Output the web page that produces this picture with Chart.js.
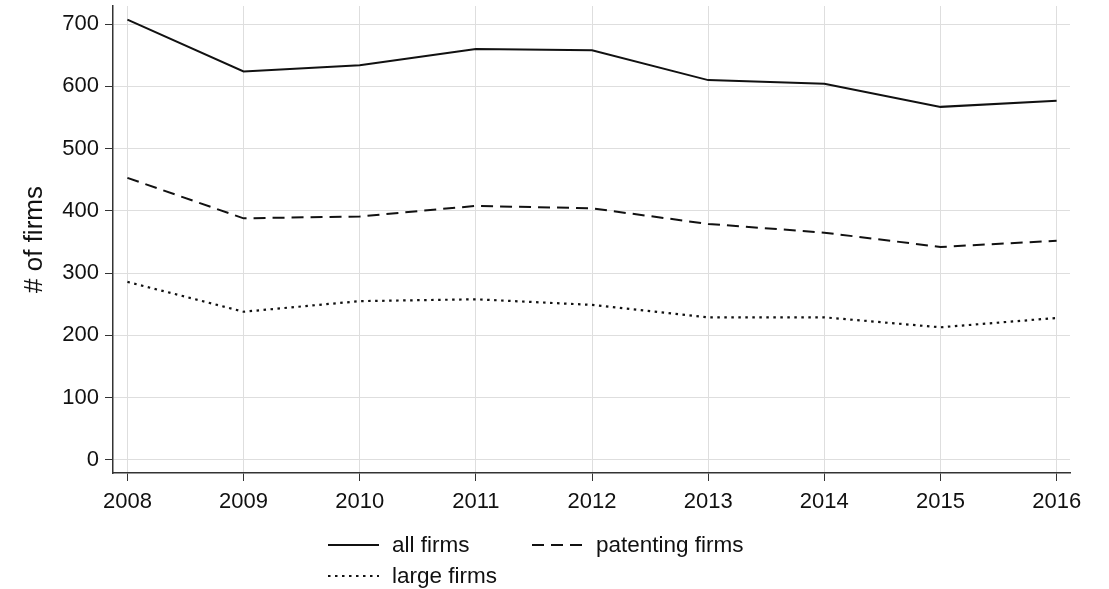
<!DOCTYPE html>
<html>
<head>
<meta charset="utf-8">
<script src="https://cdn.jsdelivr.net/npm/chart.js@4/dist/chart.umd.min.js"></script>
<style>
  html, body { margin: 0; padding: 0; background: #fff; }
  #wrap { width: 1109px; height: 589px; }
</style>
</head>
<body>
<div id="wrap"><canvas id="lineChart"></canvas></div>
<script>
var years = [2008, 2009, 2010, 2011, 2012, 2013, 2014, 2015, 2016];
var allFirms = [707, 624, 634, 660, 658, 610, 604, 567, 577];
var patentingFirms = [453, 388, 391, 408, 404, 379, 365, 342, 352];
var largeFirms = [286, 238, 255, 258, 249, 229, 229, 213, 228];
var yTicks = [0, 100, 200, 300, 400, 500, 600, 700];

var FONT = '"Liberation Sans", Arial, sans-serif';

function pts(vals) {
    return years.map(function (yr, i) { return { x: yr, y: vals[i] }; });
}

// legend drawn by hand: two columns, like the original
var legendPlugin = {
    id: 'twoColLegend',
    afterDraw: function (chart) {
        var c = chart.ctx;
        var spots = [
            { x: 328, y: 545 },
            { x: 532, y: 545 },
            { x: 328, y: 576 }
        ];
        chart.data.datasets.forEach(function (ds, i) {
            var s = spots[i];
            c.save();
            c.strokeStyle = ds.borderColor;
            c.lineWidth = ds.borderWidth;
            c.setLineDash(ds.borderDash || []);
            c.beginPath();
            c.moveTo(s.x, s.y);
            c.lineTo(s.x + 51, s.y);
            c.stroke();
            c.setLineDash([]);
            c.fillStyle = '#111';
            c.font = '22.5px ' + FONT;
            c.textBaseline = 'middle';
            c.fillText(ds.label, s.x + 64, s.y + 1);
            c.restore();
        });
    }
};

var ctx = document.getElementById('lineChart').getContext('2d');
var myChart = new Chart(ctx, {
    type: 'line',
    data: {
        datasets: [{
            label: 'all firms',
            data: pts(allFirms),
            borderColor: '#111',
            borderWidth: 2,
            pointRadius: 0
        }, {
            label: 'patenting firms',
            data: pts(patentingFirms),
            borderColor: '#111',
            borderWidth: 2,
            borderDash: [12, 7],
            pointRadius: 0
        }, {
            label: 'large firms',
            data: pts(largeFirms),
            borderColor: '#111',
            borderWidth: 2.2,
            borderDash: [2.5, 4.5],
            pointRadius: 0
        }]
    },
    options: {
        responsive: true,
        maintainAspectRatio: false,
        animation: false,
        layout: { padding: { left: 0, right: 39, top: 6, bottom: 76 } },
        plugins: {
            legend: { display: false },
            tooltip: { enabled: false }
        },
        scales: {
            x: {
                type: 'linear',
                min: 2007.876,
                max: 2016.115,
                afterBuildTicks: function (s) { s.ticks = years.map(function (v) { return { value: v }; }); },
                afterFit: function (s) { s.height = 40; },
                ticks: {
                    color: '#111',
                    padding: 8,
                    maxRotation: 0,
                    font: { size: 22, family: FONT },
                    callback: function (v) { return String(v); }
                },
                grid: { color: '#dedede', tickColor: '#333', tickLength: 8, lineWidth: 1 },
                border: { color: '#333', width: 1.5 }
            },
            y: {
                min: -21,
                max: 729,
                afterBuildTicks: function (s) { s.ticks = yTicks.map(function (v) { return { value: v }; }); },
                afterFit: function (s) { s.width = 113; s.paddingTop = 0; s.paddingBottom = 0; },
                title: {
                    display: true,
                    text: '# of firms',
                    color: '#111',
                    padding: { top: 19, bottom: 0 },
                    font: { size: 26, family: FONT }
                },
                ticks: {
                    color: '#111',
                    padding: 6,
                    font: { size: 22, family: FONT }
                },
                grid: { color: '#dedede', tickColor: '#333', tickLength: 8, lineWidth: 1 },
                border: { color: '#333', width: 1.5 }
            }
        }
    },
    plugins: [legendPlugin]
});
</script>
</body>
</html>
